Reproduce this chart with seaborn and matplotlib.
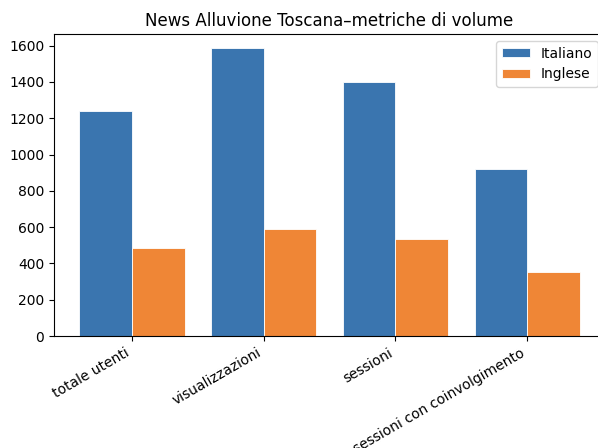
import pandas as pd
import seaborn as sns
import matplotlib
matplotlib.use("Agg")
import matplotlib.pyplot as plt

metriche = ['totale utenti', 'visualizzazioni', 'sessioni', 'sessioni con coinvolgimento']
italiano = [1242, 1585, 1398, 920]
inglese = [484, 587, 537, 355]
lingue = ['Italiano', 'Inglese']
colori = ['#3a75af', '#ef8636']

df = pd.DataFrame({
    'metrica': metriche * 2,
    'valore': italiano + inglese,
    'lingua': [lingue[0]] * len(metriche) + [lingue[1]] * len(metriche),
})

fig = plt.figure(figsize=(5.98, 4.48), dpi=100)
ax = fig.add_axes([54 / 598, 112 / 448, 551 / 598, 302 / 448])

sns.barplot(data=df, x='metrica', y='valore', hue='lingua', palette=colori,
            saturation=1, width=0.8, edgecolor='white', linewidth=0.6, ax=ax)

ax.set_xlim(-0.59, 3.59)
ax.set_title('News Alluvione Toscana–metriche di volume', fontsize=12)
ax.set_xlabel('')
ax.set_ylabel('')
ax.tick_params(labelsize=10)
plt.setp(ax.get_xticklabels(), rotation=30, ha='right')
ax.legend(loc='upper right', fontsize=10, title=None)

fig.savefig('out.png', dpi=100)
